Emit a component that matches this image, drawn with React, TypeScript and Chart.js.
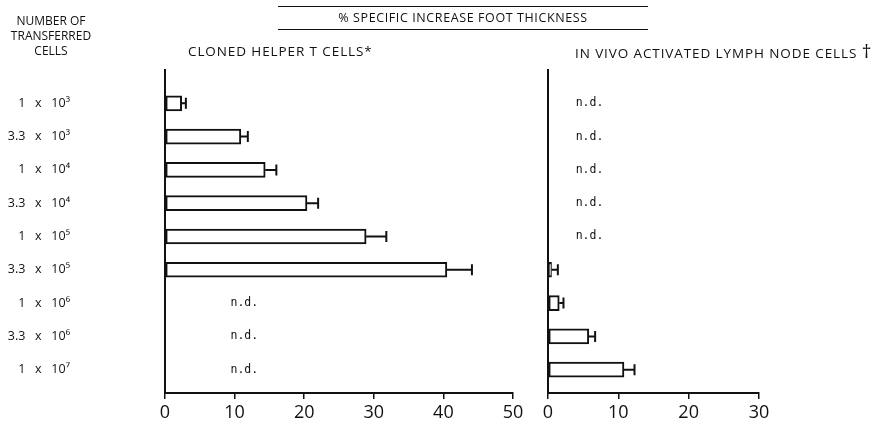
import React, { useEffect, useRef } from 'react';
import { Chart, registerables } from 'chart.js';

Chart.register(...registerables);

// ---- data ----
const rowLabels = [
  '1   x   10³',
  '3.3   x   10³',
  '1   x   10⁴',
  '3.3   x   10⁴',
  '1   x   10⁵',
  '3.3   x   10⁵',
  '1   x   10⁶',
  '3.3   x   10⁶',
  '1   x   10⁷',
];
const rowPositions = [1, 2, 3, 4, 5, 6, 7, 8, 9];
const clonedMeans = [2.4, 10.9, 14.4, 20.4, 28.9, 40.5, null, null, null];
const clonedErrors = [0.6, 1.0, 1.6, 1.6, 2.9, 3.6, null, null, null];
const lymphMeans = [null, null, null, null, null, 0.5, 1.6, 5.8, 10.8];
const lymphErrors = [null, null, null, null, null, 0.9, 0.6, 0.9, 1.5];
const clonedTicks = [0, 10, 20, 30, 40, 50];
const lymphTicks = [0, 10, 20, 30];
const notDoneText = 'n.d.';

const W = 888;
const H = 423;
const INK = '#111';
const SANS = '"Open Sans", "DejaVu Sans", sans-serif';

function makeAnnotations(means: (number | null)[], errors: (number | null)[], ndAt: number) {
  return {
    id: 'annotations',
    afterDatasetsDraw(chart: any) {
      const { ctx } = chart;
      const xs = chart.scales.x;
      const ys = chart.scales.y;
      ctx.save();
      ctx.strokeStyle = INK;
      ctx.fillStyle = INK;
      ctx.lineWidth = 2;
      means.forEach((m, i) => {
        const py = ys.getPixelForValue(rowPositions[i]);
        if (m == null) {
          ctx.font = '11.5px "DejaVu Sans Mono", monospace';
          ctx.textAlign = 'center';
          ctx.textBaseline = 'middle';
          ctx.fillText(notDoneText, xs.getPixelForValue(ndAt), py);
          return;
        }
        const e = errors[i] ?? 0;
        const x1 = xs.getPixelForValue(m);
        const x2 = xs.getPixelForValue(m + e);
        ctx.beginPath();
        ctx.moveTo(x1, py);
        ctx.lineTo(x2, py);
        ctx.moveTo(x2, py - 5.5);
        ctx.lineTo(x2, py + 5.5);
        ctx.stroke();
      });
      ctx.restore();
    },
  };
}

function buildConfig(opts: {
  means: (number | null)[];
  errors: (number | null)[];
  ticks: number[];
  max: number;
  left: number;
  right: number;
  showRowLabels: boolean;
  ndAt: number;
}): any {
  const data = rowPositions
    .map((r, i) => ({ x: opts.means[i], y: r }))
    .filter((d) => d.x != null);
  return {
    type: 'bar',
    data: {
      datasets: [
        {
          data,
          backgroundColor: '#ffffff',
          borderColor: INK,
          borderWidth: 2,
          borderSkipped: false,
          barThickness: 15,
        },
      ],
    },
    plugins: [makeAnnotations(opts.means, opts.errors, opts.ndAt)],
    options: {
      indexAxis: 'y',
      animation: false,
      responsive: false,
      maintainAspectRatio: false,
      layout: {
        padding: { left: opts.showRowLabels ? 0 : opts.left, right: W - opts.right, top: 70, bottom: 0 },
      },
      plugins: { legend: { display: false }, tooltip: { enabled: false }, title: { display: false } },
      scales: {
        x: {
          type: 'linear',
          min: 0,
          max: opts.max,
          offset: false,
          afterFit: (s: any) => {
            s.height = 30;
          },
          afterBuildTicks: (s: any) => {
            s.ticks = opts.ticks.map((v) => ({ value: v }));
          },
          grid: { drawOnChartArea: false, drawTicks: true, tickLength: 6, color: INK, lineWidth: 1.5 },
          border: { display: true, color: INK, width: 2 },
          ticks: { color: INK, padding: 3, font: { family: SANS, size: 18, weight: 'normal' } },
        },
        y: {
          type: 'linear',
          reverse: true,
          offset: false,
          min: 0,
          max: 9.7,
          afterFit: (s: any) => {
            s.width = opts.showRowLabels ? opts.left : 0;
          },
          afterBuildTicks: (s: any) => {
            s.ticks = rowPositions.map((v) => ({ value: v }));
          },
          grid: {
            display: true,
            drawOnChartArea: false,
            drawTicks: true,
            tickLength: 95,
            color: 'rgba(0,0,0,0)',
          },
          border: { display: true, color: INK, width: 2 },
          ticks: {
            display: opts.showRowLabels,
            autoSkip: false,
            padding: 0,
            color: INK,
            font: { family: SANS, size: 12.5 },
            callback: (v: any) => rowLabels[Math.round(Number(v)) - 1] ?? '',
          },
        },
      },
    },
  };
}

export default function App() {
  const leftRef = useRef<HTMLCanvasElement>(null);
  const rightRef = useRef<HTMLCanvasElement>(null);

  useEffect(() => {
    document.body.style.margin = '0';
    const left = new Chart(
      leftRef.current!,
      buildConfig({
        means: clonedMeans,
        errors: clonedErrors,
        ticks: clonedTicks,
        max: 50,
        left: 165,
        right: 513,
        showRowLabels: true,
        ndAt: 11.4,
      })
    );
    const right = new Chart(
      rightRef.current!,
      buildConfig({
        means: lymphMeans,
        errors: lymphErrors,
        ticks: lymphTicks,
        max: 30,
        left: 548,
        right: 759,
        showRowLabels: false,
        ndAt: 5.9,
      })
    );
    return () => {
      left.destroy();
      right.destroy();
    };
  }, []);

  const text: React.CSSProperties = {
    position: 'absolute',
    fontFamily: SANS,
    fontSize: 13.5,
    color: INK,
    whiteSpace: 'nowrap',
    letterSpacing: 0.9,
  };

  return (
    <div style={{ position: 'fixed', left: 0, top: 0, width: W, height: H, background: '#fff' }}>
      <canvas ref={leftRef} width={W} height={H} style={{ position: 'absolute', left: 0, top: 0, width: W, height: H }} />
      <canvas ref={rightRef} width={W} height={H} style={{ position: 'absolute', left: 0, top: 0, width: W, height: H }} />
      <div
        style={{
          ...text,
          fontSize: 12,
          letterSpacing: 0,
          left: 1,
          top: 13,
          width: 100,
          textAlign: 'center',
          lineHeight: '15px',
        }}
      >
        NUMBER OF
        <br />
        TRANSFERRED
        <br />
        CELLS
      </div>
      <div style={{ position: 'absolute', left: 278, top: 6, width: 370, borderTop: `1.5px solid ${INK}` }} />
      <div style={{ position: 'absolute', left: 278, top: 29, width: 370, borderTop: `1.5px solid ${INK}` }} />
      <div
        style={{ ...text, fontSize: 12.5, letterSpacing: 0.6, left: 278, top: 10, width: 370, textAlign: 'center', lineHeight: '16px' }}
      >
        % SPECIFIC INCREASE FOOT THICKNESS
      </div>
      <div style={{ ...text, left: 188, top: 42, lineHeight: '18px' }}>CLONED HELPER T CELLS*</div>
      <div style={{ ...text, left: 575, top: 42, lineHeight: '18px' }}>
        IN VIVO ACTIVATED LYMPH NODE CELLS <span style={{ fontSize: 19 }}>†</span>
      </div>
    </div>
  );
}
